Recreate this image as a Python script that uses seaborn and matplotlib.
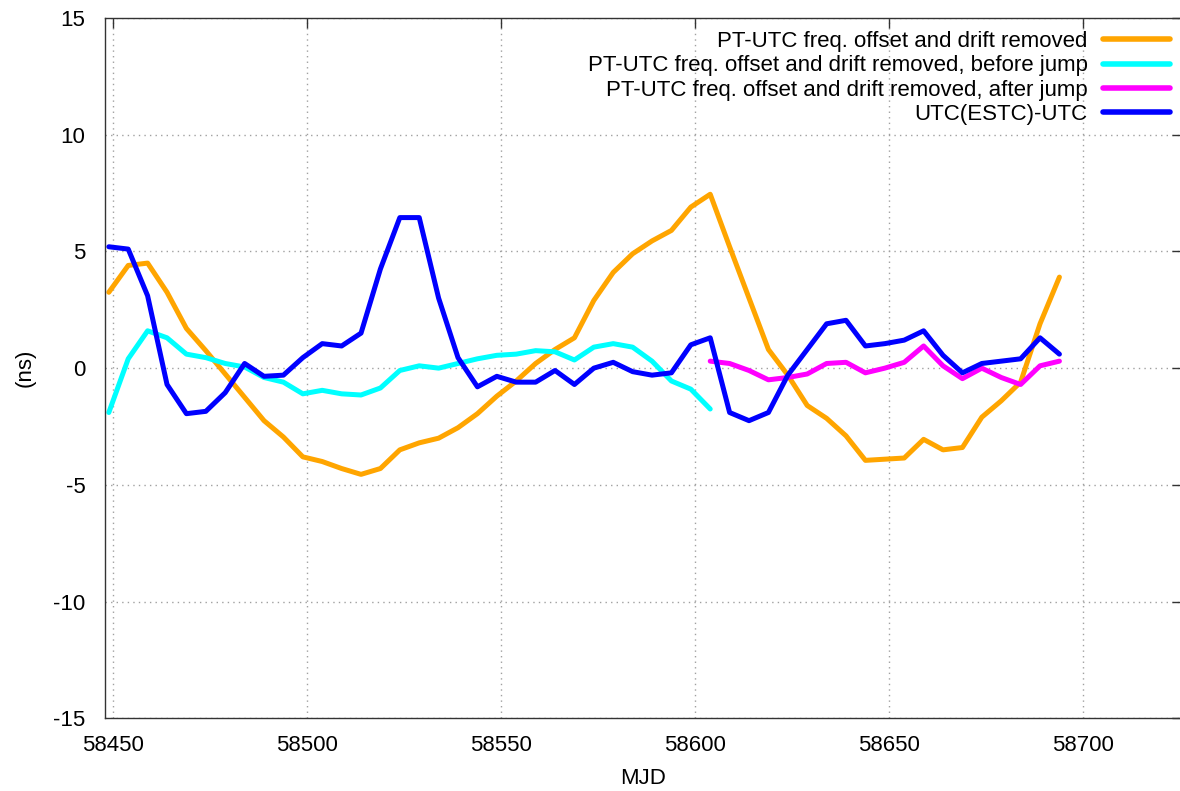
import matplotlib
matplotlib.use("Agg")
import matplotlib.pyplot as plt
import seaborn as sns
import pandas as pd

mjd_all = [58449, 58454, 58459, 58464, 58469, 58474, 58479, 58484, 58489, 58494,
           58499, 58504, 58509, 58514, 58519, 58524, 58529, 58534, 58539, 58544,
           58549, 58554, 58559, 58564, 58569, 58574, 58579, 58584, 58589, 58594,
           58599, 58604, 58609, 58614, 58619, 58624, 58629, 58634, 58639, 58644,
           58649, 58654, 58659, 58664, 58669, 58674, 58679, 58684, 58689, 58694]

pt_removed = [3.25, 4.4, 4.5, 3.25, 1.7, 0.75, -0.25, -1.25, -2.25, -2.95,
              -3.8, -4.0, -4.3, -4.55, -4.3, -3.5, -3.2, -3.0, -2.55, -1.95,
              -1.2, -0.55, 0.2, 0.8, 1.3, 2.9, 4.1, 4.9, 5.45, 5.9,
              6.9, 7.45, 5.2, 3.0, 0.8, -0.3, -1.6, -2.15, -2.9, -3.95,
              -3.9, -3.85, -3.05, -3.5, -3.4, -2.1, -1.4, -0.6, 1.9, 3.9]

mjd_before = mjd_all[:32]
pt_before = [-1.9, 0.4, 1.6, 1.3, 0.6, 0.45, 0.2, 0.05, -0.4, -0.6,
             -1.1, -0.95, -1.1, -1.15, -0.85, -0.1, 0.1, 0.0, 0.2, 0.4,
             0.55, 0.6, 0.75, 0.7, 0.35, 0.9, 1.05, 0.9, 0.3, -0.55,
             -0.9, -1.75]

mjd_after = mjd_all[31:]
pt_after = [0.3, 0.2, -0.1, -0.5, -0.4, -0.25, 0.2, 0.25, -0.2, 0.0,
            0.25, 0.95, 0.1, -0.45, 0.0, -0.4, -0.7, 0.1, 0.3]

utc_estc = [5.2, 5.1, 3.1, -0.7, -1.95, -1.85, -1.05, 0.2, -0.35, -0.3,
            0.45, 1.05, 0.95, 1.5, 4.25, 6.45, 6.45, 3.0, 0.45, -0.8,
            -0.35, -0.6, -0.6, -0.1, -0.7, 0.0, 0.25, -0.15, -0.3, -0.2,
            1.0, 1.3, -1.9, -2.25, -1.9, -0.3, 0.8, 1.9, 2.05, 0.95,
            1.05, 1.2, 1.6, 0.55, -0.2, 0.2, 0.3, 0.4, 1.3, 0.6]

labels = ["PT-UTC freq. offset and drift removed",
          "PT-UTC freq. offset and drift removed, before jump",
          "PT-UTC freq. offset and drift removed, after jump",
          "UTC(ESTC)-UTC"]
colors = ["#FFA500", "#00FFFF", "#FF00FF", "#0000FF"]

series = [(mjd_all, pt_removed), (mjd_before, pt_before),
          (mjd_after, pt_after), (mjd_all, utc_estc)]

sns.set_theme(style="white")
plt.rcParams['font.family'] = ['Liberation Sans', 'DejaVu Sans']
plt.rcParams['axes.unicode_minus'] = False
plt.rcParams['text.color'] = 'black'
plt.rcParams['axes.labelcolor'] = 'black'

W, H = 1180, 791
fig = plt.figure(figsize=(W / 100, H / 100), dpi=100)
left_px, right_px, top_px, bot_px = 105, 1182, 18, 718.3
ax = fig.add_axes([left_px / W, (H - bot_px) / H,
                   (right_px - left_px) / W, (bot_px - top_px) / H])

for (xs, ys), lab, col in zip(series, labels, colors):
    df = pd.DataFrame({"MJD": xs, "ns": ys})
    sns.lineplot(data=df, x="MJD", y="ns", ax=ax, color=col, lw=3.6,
                 label=lab, sort=False, estimator=None)

px_per_mjd = (1082.7 - 112.7) / 250.0
ax.set_xlim(58450 - (112.7 - left_px) / px_per_mjd,
            58450 + (right_px - 112.7) / px_per_mjd)
ax.set_ylim(-15, 15)
ax.set_xticks([58450, 58500, 58550, 58600, 58650, 58700])
ax.set_yticks([-15, -10, -5, 0, 5, 10, 15])

ax.grid(True, color="#a0a0a0", linestyle=(0, (1, 3)), linewidth=1.0)
for s in ax.spines.values():
    s.set_color("#333333")
    s.set_linewidth(1.0)

ax.tick_params(direction="in", length=7, width=1, colors="#333333",
               labelcolor="black", labelsize=16, top=True, right=True)
ax.tick_params(axis="x", pad=12)
ax.tick_params(axis="y", pad=14)

ax.set_xlabel("MJD", fontsize=16, labelpad=9)
ax.set_ylabel("(ns)", fontsize=16, labelpad=13)

leg = ax.legend(loc="upper right",
                bbox_to_anchor=(1.0 - 12 / (right_px - left_px), 1.0 - 13 / (bot_px - top_px)),
                frameon=False, markerfirst=False, fontsize=16,
                handlelength=3.0, handletextpad=0.7, labelspacing=0.15,
                borderaxespad=0, borderpad=0)
for line in leg.get_lines():
    line.set_linewidth(4)
for t in leg.get_texts():
    t.set_color("black")

fig.savefig("out.png", dpi=100)
